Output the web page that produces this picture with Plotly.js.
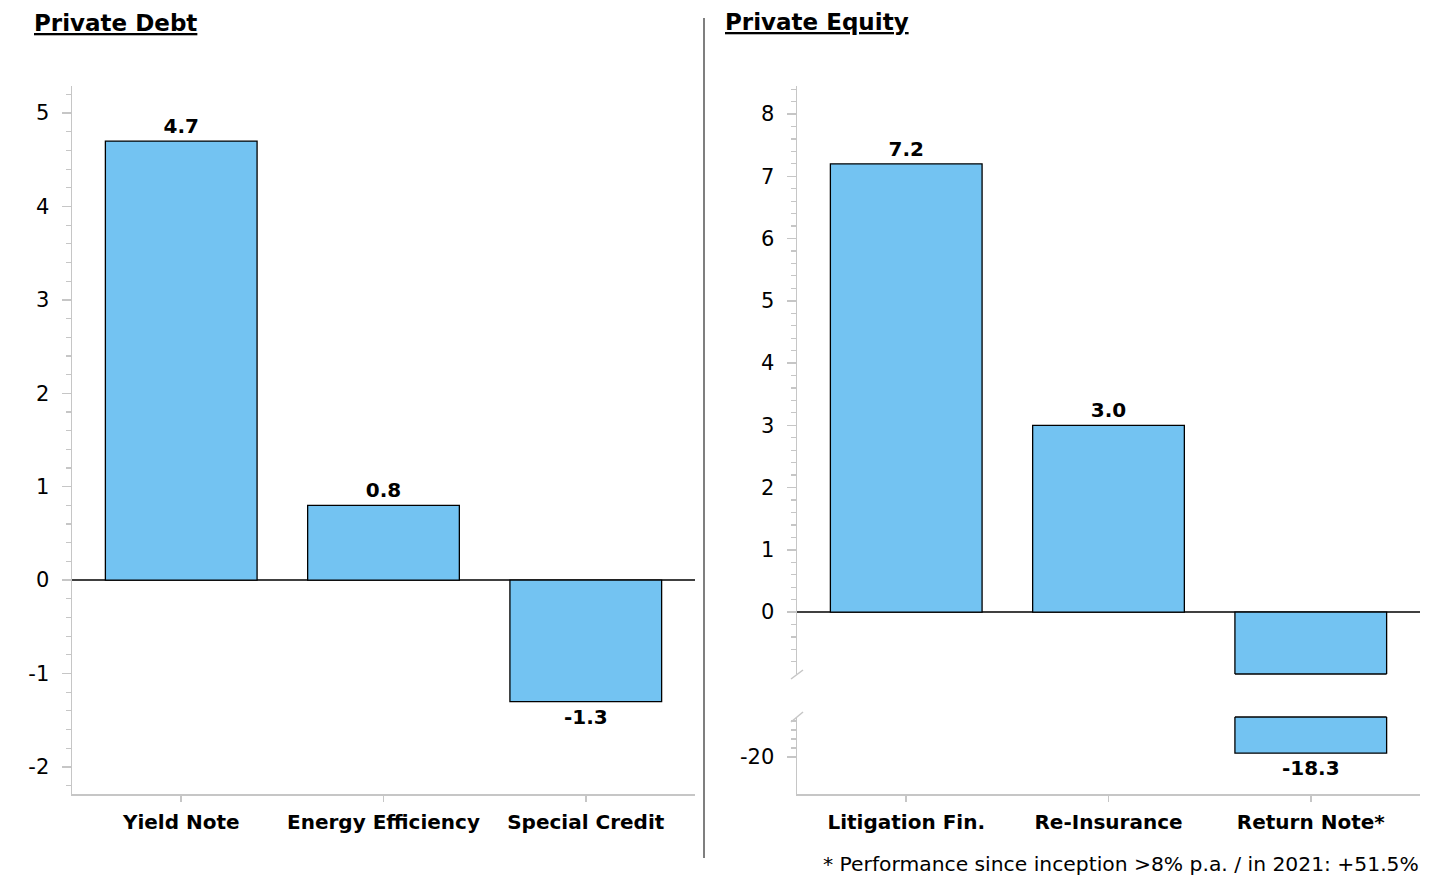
<!DOCTYPE html>
<html><head><meta charset="utf-8">
<script src="https://cdn.plot.ly/plotly-3.0.1.min.js"></script>
<style>html,body{margin:0;padding:0;background:#fff}</style>
</head><body><div id="chart" style="width:1449px;height:886px"></div>
<script>
const debtCategories = ['Yield Note', 'Energy Efficiency', 'Special Credit'];
const debtValues = [4.7, 0.8, -1.3];
const equityCategories = ['Litigation Fin.', 'Re-Insurance', 'Return Note*'];
const equityValues = [7.2, 3.0, -18.3];
const debtTicks = [-2, -1, 0, 1, 2, 3, 4, 5];
const equityUpperTicks = [0, 1, 2, 3, 4, 5, 6, 7, 8];
const equityLowerTicks = [-20];
const panelTitles = ['Private Debt', 'Private Equity'];
const footnote = '* Performance since inception >8% p.a. / in 2021: +51.5%';

const W = 1449, H = 886;
const px = v => v / W;
const py = v => 1 - v / H;

const BAR = '#73C3F2';
const AXIS = '#c6c6c6';
const FONT = 'DejaVu Sans, Verdana, sans-serif';

const upperRange = [-0.995, 8.45];
const lowerRange = [-36.44, -2.22];

const fmt = v => v.toFixed(1);
const barStyle = {color: BAR, line: {color: '#000', width: 1.3}};
const txtFont = {family: FONT, size: 20, color: '#000', weight: 'bold'};

const traces = [
  {type: 'bar', x: debtCategories, y: debtValues, xaxis: 'x', yaxis: 'y',
   marker: barStyle, text: debtValues.map(fmt), textposition: 'outside',
   textfont: txtFont, cliponaxis: false, hoverinfo: 'x+y'},
  {type: 'bar', x: equityCategories, y: equityValues, xaxis: 'x2', yaxis: 'y2',
   marker: barStyle, text: equityValues.map(v => v >= upperRange[0] ? fmt(v) : ''),
   textposition: 'outside', textfont: txtFont, hoverinfo: 'x+y'},
  {type: 'bar', x: equityCategories, y: equityValues, xaxis: 'x2', yaxis: 'y3',
   marker: barStyle, text: equityValues.map(v => v < upperRange[0] ? fmt(v) : ''),
   textposition: 'outside', textfont: txtFont, hoverinfo: 'x+y'}
];

const tickFont = {family: FONT, size: 21, color: '#000'};
const catFont = {family: FONT, size: 20, color: '#000', weight: 'bold'};
const label = v => String(v); // plain hyphen minus, as in the original

function xAxis(domain, anchor) {
  return {domain, anchor, range: [-0.54, 2.54], showline: true, linecolor: AXIS, linewidth: 1.5,
    ticks: 'outside', ticklen: 6, tickwidth: 1.5, tickcolor: AXIS, tickfont: catFont,
    ticklabelstandoff: 3, showgrid: false, zeroline: false, fixedrange: true};
}
function yAxis(domain, anchor, range, ticks, extra) {
  return Object.assign({domain, anchor, range, showline: true, linecolor: AXIS, linewidth: 1.5,
    ticks: 'outside', ticklen: 9, tickwidth: 1.5, tickcolor: AXIS, tickfont: tickFont,
    tickmode: 'array', tickvals: ticks, ticktext: ticks.map(label), ticklabelstandoff: 8,
    showgrid: false, zeroline: true, zerolinecolor: '#404040', zerolinewidth: 1.5,
    fixedrange: true,
    minor: {dtick: 0.2, ticks: 'outside', ticklen: 5, tickwidth: 1.2, tickcolor: AXIS, showgrid: false}}, extra || {});
}

// outline of the bar pieces where the broken axis cuts them
const cutIndex = equityValues.findIndex(v => v < upperRange[0]);
const halfBar = 0.75 / 2;
const cutEdges = cutIndex < 0 ? [] : [
  {type: 'line', xref: 'x2', yref: 'y2 domain', x0: cutIndex - halfBar, x1: cutIndex + halfBar, y0: 0, y1: 0,
   line: {color: '#000', width: 1.3}},
  {type: 'line', xref: 'x2', yref: 'y3 domain', x0: cutIndex - halfBar, x1: cutIndex + halfBar, y0: 1, y1: 1,
   line: {color: '#000', width: 1.3}}
];

const layout = {
  width: W, height: H,
  margin: {l: 0, r: 0, t: 0, b: 0},
  paper_bgcolor: '#fff', plot_bgcolor: 'rgba(0,0,0,0)',
  showlegend: false, bargap: 0.25,
  font: {family: FONT, color: '#000'},
  xaxis: xAxis([px(72), px(695)], 'y'),
  yaxis: yAxis([py(794), py(86)], 'x', [-2.29, 5.29], debtTicks),
  xaxis2: xAxis([px(797), px(1420)], 'y3'),
  yaxis2: yAxis([py(674), py(86)], 'x2', upperRange, equityUpperTicks),
  yaxis3: yAxis([py(794), py(717)], 'x2', lowerRange, equityLowerTicks, {
    zeroline: false,
    minor: {tickmode: 'array', tickvals: [-16, -12, -8, -4], ticks: 'outside', ticklen: 5, tickwidth: 1.2, tickcolor: AXIS, showgrid: false}}),
  annotations: [
    {text: panelTitles[0], xref: 'paper', yref: 'paper', x: px(32), y: py(23), xanchor: 'left', yanchor: 'middle',
     showarrow: false, font: {family: FONT, size: 23, color: '#000', weight: 'bold', lineposition: 'under'}},
    {text: panelTitles[1], xref: 'paper', yref: 'paper', x: px(723), y: py(22), xanchor: 'left', yanchor: 'middle',
     showarrow: false, font: {family: FONT, size: 23, color: '#000', weight: 'bold', lineposition: 'under'}},
    {text: footnote, xref: 'paper', yref: 'paper', x: px(1421), y: py(864), xanchor: 'right', yanchor: 'middle',
     showarrow: false, font: {family: FONT, size: 20.3, color: '#000'}}
  ],
  shapes: [
    {type: 'line', xref: 'paper', yref: 'paper', x0: px(704), x1: px(704), y0: py(18), y1: py(858),
     line: {color: '#555', width: 1.5}},
    {type: 'line', xref: 'paper', yref: 'paper', x0: px(803), x1: px(791), y0: py(670), y1: py(679),
     line: {color: AXIS, width: 1.5}},
    {type: 'line', xref: 'paper', yref: 'paper', x0: px(803), x1: px(791), y0: py(712), y1: py(722),
     line: {color: AXIS, width: 1.5}}
  ].concat(cutEdges)
};

Plotly.newPlot('chart', traces, layout, {displayModeBar: false, staticPlot: true});
</script>
</body></html>
